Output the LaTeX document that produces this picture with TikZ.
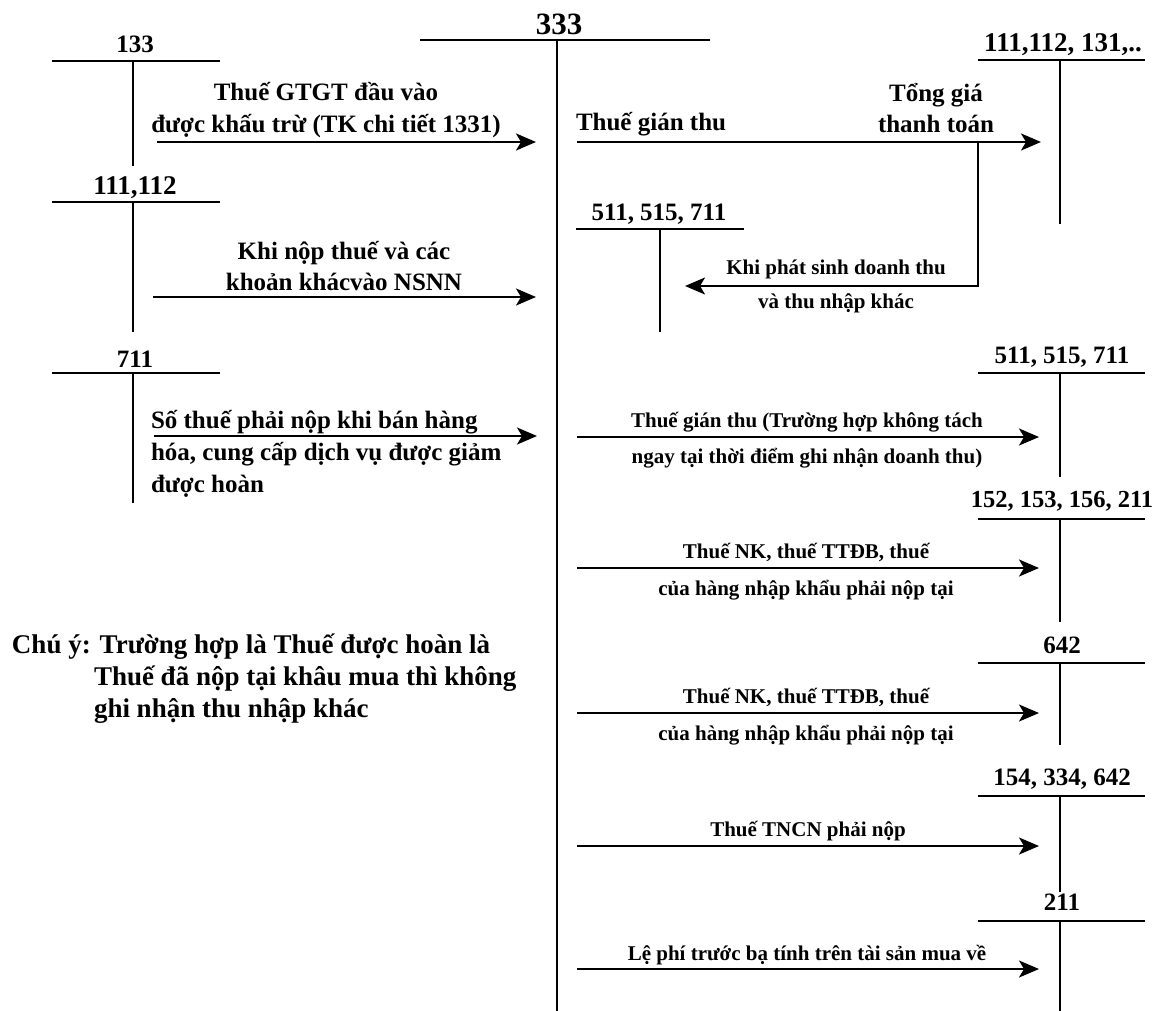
\documentclass[tikz,border=0pt]{standalone}
\usepackage{fontspec}
\setmainfont{Liberation Serif}
\usetikzlibrary{arrows.meta}

\begin{document}
\begin{tikzpicture}[x=1pt, y=-1pt, line width=2pt,
  acct/.style={anchor=base, inner sep=0pt, font=\fontsize{25}{30}\selectfont\bfseries},
  lbl/.style={anchor=base, inner sep=0pt, align=center, font=\fontsize{25}{32}\selectfont\bfseries},
  sml/.style={anchor=base, inner sep=0pt, align=center, font=\fontsize{21}{36}\selectfont\bfseries},
  arr/.style={-{Stealth[length=20pt, width=17pt, inset=5pt]}, line width=2.2pt}]
  \useasboundingbox (0,0) rectangle (1156,1011);

  \node (a333) [acct, font=\fontsize{31}{36}\selectfont\bfseries] at (559,35) {333};
  \node (a133) [acct] at (135,53) {133};
  \node (a111) [acct, font=\fontsize{27}{30}\selectfont\bfseries] at (135,195) {111,112};
  \node (a711) [acct] at (135,367) {711};
  \node (a511m) [acct] at (659,220) {511, 515, 711};
  \node (a111r) [acct, font=\fontsize{27}{30}\selectfont\bfseries] at (1063,52) {111,112, 131,..};
  \node (a511r) [acct] at (1062,363) {511, 515, 711};
  \node (a152) [acct, font=\fontsize{24.5}{30}\selectfont\bfseries] at (1062,507) {152, 153, 156, 211};
  \node (a642) [acct] at (1062,653) {642};
  \node (a154) [acct] at (1062,785) {154, 334, 642};
  \node (a211) [acct] at (1062,910) {211};

  \draw (420,40) -- (710,40) (557,40) -- (557,1011);
  \draw (52,61) -- (220,61) (133,61) -- (133,166);
  \draw (52,202) -- (220,202) (133,202) -- (133,332);
  \draw (52,373) -- (220,373) (133,373) -- (133,503);
  \draw (576,229) -- (744,229) (660,229) -- (660,332);
  \draw (978,60) -- (1145,60) (1060,60) -- (1060,224);
  \draw (978,373) -- (1145,373) (1060,373) -- (1060,477);
  \draw (978,519) -- (1145,519) (1060,519) -- (1060,622);
  \draw (978,663) -- (1145,663) (1060,663) -- (1060,745);
  \draw (978,796) -- (1145,796) (1060,796) -- (1060,892);
  \draw (978,921) -- (1145,921) (1060,921) -- (1060,1011);

  \coordinate (s1) at (157,142);  \coordinate (e1) at (536,142);
  \coordinate (s2) at (153,297);  \coordinate (e2) at (536,297);
  \coordinate (s3) at (154,436);  \coordinate (e3) at (537,436);
  \coordinate (s4) at (577,142);  \coordinate (e4) at (1041,142);
  \coordinate (b4) at (978,142);  \coordinate (e5) at (685,286);
  \coordinate (s6) at (577,437);  \coordinate (e6) at (1039,437);
  \coordinate (s7) at (577,568);  \coordinate (e7) at (1039,568);
  \coordinate (s8) at (577,713);  \coordinate (e8) at (1039,713);
  \coordinate (s9) at (577,846);  \coordinate (e9) at (1039,846);
  \coordinate (s10) at (577,969); \coordinate (e10) at (1039,969);

  \path [arr]
  (s1) edge (e1)
  (s2) edge (e2)
  (s3) edge (e3)
  (s4) edge (e4)
  (s6) edge (e6)
  (s7) edge (e7)
  (s8) edge (e8)
  (s9) edge (e9)
  (s10) edge (e10);
  \draw [arr] (b4) |- (e5);

  \node (l1) [lbl] at (326,133) {Thuế GTGT đầu vào\\được khấu trừ (TK chi tiết 1331)};
  \node (l2) [lbl, font=\fontsize{25}{31}\selectfont\bfseries] at (344,290) {Khi nộp thuế và các\\khoản khácvào NSNN};
  \node (l3) [lbl, anchor=base west, align=left] at (150,492) {Số thuế phải nộp khi bán hàng\\hóa, cung cấp dịch vụ được giảm\\được hoàn};
  \node (l4) [lbl, anchor=base west] at (575,131) {Thuế gián thu};
  \node (l5) [lbl, font=\fontsize{25}{31}\selectfont\bfseries] at (936,133) {Tổng giá\\thanh toán};
  \node (l6) [sml, font=\fontsize{21}{34}\selectfont\bfseries] at (836,308) {Khi phát sinh doanh thu\\và thu nhập khác};
  \node (l7) [sml] at (807,463) {Thuế gián thu (Trường hợp không tách\\ngay tại thời điểm ghi nhận doanh thu)};
  \node (l8) [sml, font=\fontsize{21}{37}\selectfont\bfseries] at (806,595) {Thuế NK, thuế TTĐB, thuế\\của hàng nhập khẩu phải nộp tại};
  \node (l9) [sml, font=\fontsize{21}{37}\selectfont\bfseries] at (806,740) {Thuế NK, thuế TTĐB, thuế\\của hàng nhập khẩu phải nộp tại};
  \node (l10) [sml] at (808,836) {Thuế TNCN phải nộp};
  \node (l11) [sml] at (807,960) {Lệ phí trước bạ tính trên tài sản mua về};
  \node (note) [anchor=base west, inner sep=0pt, align=left, font=\fontsize{27}{32}\selectfont\bfseries] at (11,717) {Chú ý: Trường hợp là Thuế được hoàn là\\\hspace*{82pt}Thuế đã nộp tại khâu mua thì không\\\hspace*{82pt}ghi nhận thu nhập khác};
\end{tikzpicture}
\end{document}
